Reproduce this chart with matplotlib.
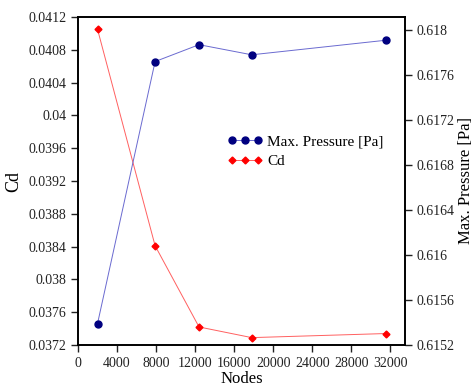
import matplotlib
matplotlib.use("Agg")
import matplotlib.pyplot as plt

plt.rcParams['font.family'] = ['Liberation Serif', 'DejaVu Serif']

# mesh sizes and results
nodes = [2000, 7900, 12400, 17800, 31600]
cd = [0.04105, 0.03841, 0.03742, 0.03729, 0.03734]
max_pressure = [0.61539, 0.61772, 0.61787, 0.61778, 0.61791]

x_ticks = [0, 4000, 8000, 12000, 16000, 20000, 24000, 28000, 32000]
cd_ticks = [0.0372, 0.0376, 0.038, 0.0384, 0.0388, 0.0392, 0.0396, 0.04, 0.0404, 0.0408, 0.0412]
p_ticks = [0.6152, 0.6156, 0.616, 0.6164, 0.6168, 0.6172, 0.6176, 0.618]

fig = plt.figure(figsize=(4.75, 3.87), dpi=100)
ax = fig.add_axes([78/475, 1 - 345/387, (405-78)/475, (345-17)/387])
ax2 = ax.twinx()

# Cd on the left axis
ax.plot(nodes, cd, color='#ff6060', linewidth=0.7, marker='D', markersize=3.5,
        markerfacecolor='red', markeredgecolor='red', label='Cd')
# pressure on the right axis
ax2.plot(nodes, max_pressure, color='#6a6ad0', linewidth=0.7, marker='o', markersize=5,
         markerfacecolor='#000080', markeredgecolor='#000080', label='Max. Pressure [Pa]')

ax.set_xlim(0, 33500)
ax.set_ylim(0.0372, 0.0412)
ax2.set_ylim(0.6152, 0.618116)
ax.set_xticks(x_ticks)
ax.set_xticklabels([str(t) for t in x_ticks])
ax.set_yticks(cd_ticks)
ax.set_yticklabels([f"{t:g}" for t in cd_ticks])
ax2.set_yticks(p_ticks)
ax2.set_yticklabels([f"{t:g}" for t in p_ticks])

for a in (ax, ax2):
    a.tick_params(direction='out', length=5, width=1, labelsize=10, colors='#222222')
    for s in a.spines.values():
        s.set_linewidth(1.2)

ax.set_xlabel("Nodes", fontsize=12, labelpad=1)
ax.set_ylabel("Cd", fontsize=13, labelpad=4)
ax2.set_ylabel("Max. Pressure [Pa]", fontsize=12, labelpad=2)

h1, l1 = ax2.get_legend_handles_labels()
h2, l2 = ax.get_legend_handles_labels()
ax.legend(h1 + h2, l1 + l2, loc='center left', bbox_to_anchor=(0.415, 0.59),
          frameon=False, fontsize=11, numpoints=3, handlelength=2.3,
          handletextpad=0.3, labelspacing=0.35)

fig.savefig("out.png", dpi=100)
